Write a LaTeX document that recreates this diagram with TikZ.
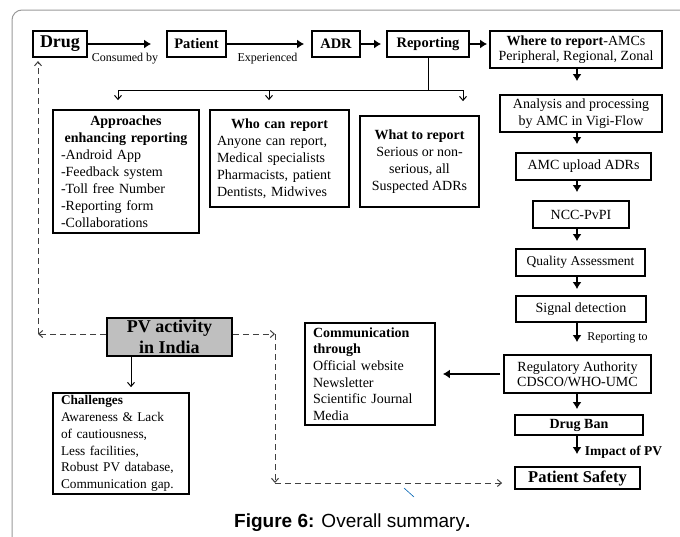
\documentclass[tikz,border=0pt]{standalone}
\usepackage{fontspec}
\setmainfont{Liberation Serif}
\newfontfamily\capfont{Liberation Sans}
\usetikzlibrary{arrows.meta,calc}
\newcommand\fsz[2]{\fontsize{#1}{#2}\selectfont}
\begin{document}
\begin{tikzpicture}[x=1pt,y=-1pt,
  box/.style={draw, line width=1.8pt, inner sep=0pt, align=center, font=\fsz{14}{17}},
  bbox/.style={box, font=\bfseries\fsz{14.5}{17}},
  arr/.style={line width=1.7pt, -{Latex[length=7pt,width=9pt]}},
  thinarr/.style={line width=1pt, -{Straight Barb[length=4pt,width=7pt]}},
  dsh/.style={line width=1pt, draw=black!75, dash pattern=on 6pt off 4pt},
  dsharr/.style={dsh, -{Straight Barb[length=4pt,width=7pt]}},
  lbl/.style={inner sep=0pt, font=\fsz{12}{14}}
]
\useasboundingbox (0,0) rectangle (680,536);

% outer frame
\draw[black!40, line width=1pt, rounded corners=10pt] (12,537) -- (12,10) -- (681,10);

% top row
\node[box, minimum width=54pt, minimum height=26pt, line width=2.2pt,
      font=\bfseries\fsz{18}{20}] (drug) at (60,44) {Drug};
\node[bbox, minimum width=59pt, minimum height=26pt] (pat) at (196.5,44) {Patient};
\node[bbox, minimum width=48pt, minimum height=26pt] (adr) at (336,44) {ADR};
\node[bbox, minimum width=82pt, minimum height=26pt] (rep) at (428,44) {Reporting};
\node[box, minimum width=172pt, minimum height=37pt, font=\fsz{14}{15.5}] (where) at (576,49.5)
  {\textbf{Where to report}-AMCs\\Peripheral, Regional, Zonal};

\draw[arr, shorten >=15pt] (drug) -- (pat);
\draw[arr, shorten >=7pt] (pat) -- (adr);
\draw[arr, shorten >=5pt] (adr) -- (rep);
\draw[arr, shorten >=2pt] (rep) -- (where.west |- rep);
\node[lbl] (consumed) at (125,59) {Consumed by};
\node[lbl] (experienced) at (267.5,59) {Experienced};

% right column
\coordinate (col) at (577,0);
\node[box, minimum width=162pt, minimum height=37pt] (ana) at (581,113.5)
  {Analysis and processing\\by AMC in Vigi-Flow};
\node[box, minimum width=135pt, minimum height=27pt] (amc) at (583.5,166.5) {AMC upload ADRs};
\node[box, minimum width=96pt, minimum height=27pt] (ncc) at (581,214.5) {NCC-PvPI};
\node[box, minimum width=129pt, minimum height=27pt, font=\fsz{13.5}{16}] (qa) at (580.5,262.5) {Quality Assessment};
\node[box, minimum width=130pt, minimum height=26pt] (sig) at (581,309) {Signal detection};
\node[box, minimum width=147pt, minimum height=38pt, font=\fsz{14}{15}] (reg) at (577.5,374)
  {Regulatory Authority\\CDSCO/WHO-UMC};
\node[box, minimum width=128pt, minimum height=20pt, font=\bfseries\fsz{14}{16}] (ban) at (579,425) {Drug Ban};
\node[box, minimum width=125pt, minimum height=22pt, font=\bfseries\fsz{16.5}{18}] (ps) at (577.5,478) {Patient Safety};

\draw[arr, shorten >=13pt] (where.south -| col) -- (ana.north -| col);
\draw[arr, shorten >=8pt] (ana.south -| col) -- (amc.north -| col);
\draw[arr, shorten >=8pt] (amc.south -| col) -- (ncc.north -| col);
\draw[arr, shorten >=7pt] (ncc.south -| col) -- (qa.north -| col);
\draw[arr, shorten >=6pt] (qa.south -| col) -- (sig.north -| col);
\draw[arr, shorten >=12pt] (sig.south -| col) -- (reg.north -| col);
\draw[arr, shorten >=5pt] (reg.south -| col) -- (ban.north -| col);
\draw[arr, shorten >=12pt] (ban.south -| col) -- (ps.north -| col);
\node[lbl] (repto) at (617.5,338) {Reporting to};
\node[lbl, font=\bfseries\fsz{13.5}{15}] (impact) at (623.5,452) {Impact of PV};

% communication
\node[box, minimum width=130pt, minimum height=102pt, text width=114pt, align=left,
      font=\fsz{14}{16.7}] (comm) at (370,374)
  {\textbf{Communication}\\\textbf{through}\\Official website\\Newsletter\\Scientific Journal\\Media};
\draw[arr, shorten <=3pt, shorten >=7pt] (reg.west) -- (comm.east |- reg.west);

% branches from Reporting
\node[box, minimum width=146pt, minimum height=123pt, text width=130pt, align=left] (appr) at (126,171.5)
  {\makebox[130pt]{\textbf{Approaches}}\\\makebox[130pt]{\textbf{enhancing reporting}}\\
   -Android App\\-Feedback system\\-Toll free Number\\-Reporting form\\-Collaborations};
\node[box, minimum width=139pt, minimum height=97pt, text width=125pt, align=left] (who) at (279.5,158.5)
  {\makebox[125pt]{\textbf{Who can report}}\\Anyone can report,\\Medical specialists\\
   Pharmacists, patient\\Dentists, Midwives};
\node[box, minimum width=119pt, minimum height=91pt] (what) at (419.5,161.5)
  {\textbf{What to report}\\Serious or non-\\serious, all\\Suspected ADRs};

\coordinate (bL) at (118,90);
\coordinate (bM) at (269,90);
\coordinate (bR) at (463,90);
\draw[line width=1pt] (rep.south) -- (rep.south |- bL);
\draw[line width=1pt] (bL) -- (bR);
\draw[thinarr, shorten >=9pt] (bL) -- (bL |- appr.north);
\draw[thinarr, shorten >=9pt] (bM) -- (bM |- who.north);
\draw[thinarr, shorten >=14pt] (bR) -- (bR |- what.north);

% PV activity and challenges
\node[box, fill=black!25, minimum width=125pt, minimum height=38pt,
      font=\bfseries\fsz{18}{21}] (pv) at (169.5,337) {PV activity\\in India};
\node[box, minimum width=136pt, minimum height=101pt, text width=120pt, align=left,
      font=\fsz{13.3}{16.7}] (chal) at (121,443.5)
  {\textbf{Challenges}\\Awareness \& Lack\\of cautiousness,\\Less facilities,\\Robust PV database,\\Communication gap.};
\draw[thinarr, shorten >=5pt] (pv.south -| 131,0) -- (chal.north -| 131,0);

% dashed feedback paths
\coordinate (dl) at (38,334);
\coordinate (dr) at (275,334);
\coordinate (db) at (275,483);
\draw[dsharr] (pv.west |- dl) -- (dl);
\draw[dsharr, shorten >=3pt] (dl) -- (dl |- drug.south);
\draw[dsharr] (pv.east |- dr) -- (dr);
\draw[dsharr] (dr) -- (db);
\draw[dsharr, shorten >=12pt] (db) -- (db -| ps.west);

% small stroke
\draw[blue!45!cyan!70!black, line width=0.6pt] (404,488) -- (414,497);

% caption
\node[anchor=base west, inner sep=0pt, font=\capfont\fsz{19}{22}] (cap) at (234,527)
  {\textbf{Figure 6:} Overall summary\textbf{.}};
\end{tikzpicture}
\end{document}
